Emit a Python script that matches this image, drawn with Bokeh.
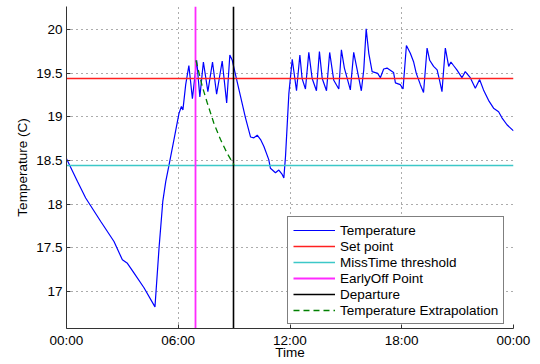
from bokeh.plotting import figure
from bokeh.models import FixedTicker, Range1d, Legend, LegendItem
from bokeh.embed import file_html
from bokeh.resources import INLINE

# ---- data (hours since midnight, temperature in C) ----
hours = [0.00, 0.59, 1.03, 1.84, 2.55, 3.00, 3.27, 3.62, 4.16, 4.75, 4.97, 5.17, 5.33, 5.48,
         5.77, 6.04, 6.17, 6.25, 6.40, 6.57, 6.76, 6.99, 7.16, 7.35, 7.59, 7.84, 8.06, 8.36,
         8.60, 8.77, 8.90, 9.08, 9.35, 9.61, 9.88, 10.06, 10.24, 10.42, 10.60, 10.86, 10.95,
         11.22, 11.40, 11.58, 11.67, 11.76, 11.94, 12.12, 12.35, 12.53, 12.65, 12.83, 13.01,
         13.19, 13.42, 13.58, 13.73, 13.96, 14.13, 14.35, 14.62, 14.76, 14.92, 15.24, 15.42,
         15.57, 15.83, 15.96, 16.09, 16.23, 16.41, 16.71, 16.85, 17.03, 17.21, 17.56, 17.66,
         17.92, 18.07, 18.25, 18.46, 18.64, 18.78, 19.00, 19.17, 19.36, 19.50, 19.71, 19.90,
         20.03, 20.16, 20.34, 20.52, 20.64, 20.78, 20.96, 21.23, 21.41, 21.68, 21.95, 22.18,
         22.39, 22.66, 22.93, 23.20, 23.38, 23.65, 24.00]
temps = [18.52, 18.26, 18.07, 17.80, 17.57, 17.36, 17.32, 17.21, 17.04, 16.82, 17.50, 18.03,
         18.26, 18.42, 18.74, 19.04, 19.12, 19.08, 19.37, 19.59, 19.21, 19.65, 19.23, 19.63,
         19.29, 19.63, 19.26, 19.64, 19.16, 19.71, 19.65, 19.48, 19.23, 18.99, 18.77, 18.76,
         18.79, 18.74, 18.66, 18.51, 18.41, 18.36, 18.39, 18.34, 18.30, 18.55, 19.27, 19.66,
         19.30, 19.71, 19.44, 19.32, 19.74, 19.44, 19.30, 19.75, 19.44, 19.30, 19.74, 19.42,
         19.32, 19.77, 19.56, 19.31, 19.74, 19.58, 19.30, 19.54, 20.01, 19.73, 19.52, 19.50,
         19.45, 19.55, 19.56, 19.51, 19.39, 19.37, 19.32, 19.82, 19.73, 19.63, 19.50, 19.37,
         19.28, 19.79, 19.65, 19.58, 19.54, 19.42, 19.29, 19.79, 19.58, 19.63, 19.59, 19.54,
         19.45, 19.52, 19.45, 19.33, 19.43, 19.31, 19.19, 19.10, 19.06, 18.99, 18.91, 18.84]

extrap_hours = [6.95, 7.29, 7.56, 7.91, 8.27, 8.63, 8.99]
extrap_temps = [19.65, 19.35, 19.16, 18.93, 18.74, 18.58, 18.45]

set_point = 19.44
misstime_threshold = 18.44
early_off_hour = 6.93
departure_hour = 8.99

x_ticks = [0, 6, 12, 18, 24]
x_tick_labels = ["00:00", "06:00", "12:00", "18:00", "00:00"]
y_ticks = [17, 17.5, 18, 18.5, 19, 19.5, 20]
y_tick_labels = ["17", "17.5", "18", "18.5", "19", "19.5", "20"]
x_limits = [0, 24]
y_limits = [16.572, 20.267]

legend_labels = ["Temperature", "Set point", "MissTime threshold",
                 "EarlyOff Point", "Departure", "Temperature Extrapolation"]

FONT = "Liberation Sans"
FS = "13.5px"

C_TEMP = "#0000ff"
C_SET = "#ff2020"
C_MISS = "#3cc8c8"
C_EARLY = "#ff2aff"
C_DEP = "#000000"
C_EXT = "#008000"

p = figure(width=540, height=364, output_backend="svg", toolbar_location=None, title=None,
           x_range=Range1d(*x_limits), y_range=Range1d(*y_limits),
           min_border_left=66, min_border_right=27, min_border_top=6, min_border_bottom=36)
p.outline_line_color = None
p.background_fill_color = "white"
p.border_fill_color = "white"

# axes
p.xaxis.ticker = FixedTicker(ticks=x_ticks)
p.xaxis.major_label_overrides = dict(zip(x_ticks, x_tick_labels))
p.yaxis.ticker = FixedTicker(ticks=y_ticks)
p.yaxis.major_label_overrides = dict(zip(y_ticks, y_tick_labels))
p.xaxis.axis_label = "Time"
p.yaxis.axis_label = "Temperature (C)"
for ax in (p.xaxis[0], p.yaxis[0]):
    ax.major_label_text_font = FONT
    ax.major_label_text_font_size = FS
    ax.major_label_text_color = "black"
    ax.axis_label_text_font = FONT
    ax.axis_label_text_font_size = FS
    ax.axis_label_text_font_style = "normal"
    ax.axis_label_text_color = "black"
    ax.axis_line_color = "#333333"
    ax.major_tick_line_color = "#333333"
    ax.major_tick_in = 4
    ax.major_tick_out = 0
    ax.minor_tick_line_color = None
    ax.major_label_standoff = 4
p.yaxis.axis_label_standoff = 3
p.xaxis.axis_label_standoff = -6

# grid (MATLAB style dotted)
for g in (p.xgrid[0], p.ygrid[0]):
    g.grid_line_color = "#222222"
    g.grid_line_alpha = 0.75
    g.grid_line_dash = "1 4"
    g.grid_line_width = 1

# data
temp_r = p.multi_line(xs=[hours], ys=[temps], line_color=C_TEMP, line_width=1.2)
set_r = p.hspan(y=[set_point], line_color=C_SET, line_width=1.6)
miss_r = p.hspan(y=[misstime_threshold], line_color=C_MISS, line_width=1.6)
early_r = p.vspan(x=[early_off_hour], line_color=C_EARLY, line_width=1.8)
dep_r = p.vspan(x=[departure_hour], line_color=C_DEP, line_width=1.6)
ext_r = p.multi_line(xs=[extrap_hours], ys=[extrap_temps], line_color=C_EXT,
                     line_width=1.3, line_dash="6 4")

legend = Legend(items=[LegendItem(label=lab, renderers=[r]) for lab, r in
                       zip(legend_labels, [temp_r, set_r, miss_r, early_r, dep_r, ext_r])],
                location=(221, 4))
legend.label_text_font = FONT
legend.label_text_font_size = FS
legend.label_text_color = "black"
legend.label_standoff = 5
legend.glyph_width = 42
legend.glyph_height = 16
legend.label_height = 16
legend.spacing = 0
legend.padding = 5
legend.margin = 0
legend.border_line_color = "black"
legend.border_line_width = 1
legend.background_fill_color = "white"
legend.background_fill_alpha = 1
p.add_layout(legend)

open("out.html", "w").write(file_html(p, INLINE))
